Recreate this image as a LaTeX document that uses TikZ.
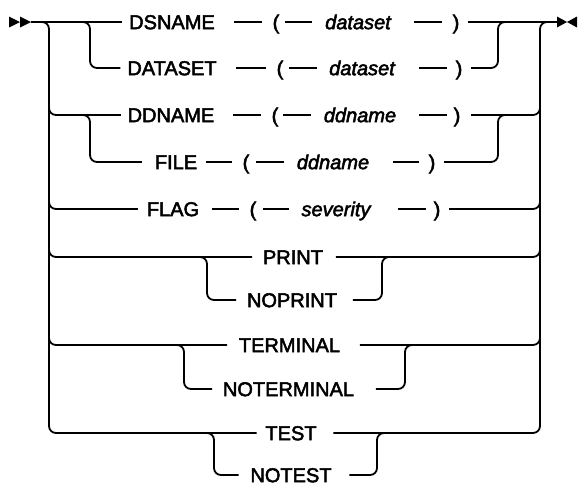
\documentclass[tikz,border=0pt]{standalone}
\usepackage{fontspec}
\setmainfont{Liberation Sans}[UprightFeatures={FakeBold=2.5},ItalicFeatures={FakeBold=2.5}]
\newcommand\dsh[4]{\draw[shorten <=#3pt, shorten >=#4pt] (#1.east) -- (#2.west);}
\begin{document}
\begin{tikzpicture}[x=1pt,y=-1pt, line width=1.8pt,
  kw/.style={inner sep=0pt, text height=14.3pt, text depth=0pt, font=\fontsize{20}{24}\selectfont},
  var/.style={kw, font=\fontsize{20}{24}\selectfont\itshape},
  rc/.style={rounded corners=7pt}]
\useasboundingbox (0,0) rectangle (578,485);

% start / end markers
\coordinate (start) at (31,22);
\coordinate (end) at (557,22);
\fill (9,16.5) -- (20,22) -- (9,27.5) -- cycle;
\fill (20,16.5) -- (31,22) -- (20,27.5) -- cycle;
\fill (557,16.5) -- (567,22) -- (557,27.5) -- cycle;
\fill (577,16.5) -- (567,22) -- (577,27.5) -- cycle;

% texts
\node[kw]  (dsname)  at (172,22) {DSNAME};
\node[kw]  (lp1)     at (276,22) {(};
\node[var] (ds1)     at (358,22) {dataset};
\node[kw]  (rp1)     at (456,22) {)};

\node[kw]  (dataset) at (172,68) {DATASET};
\node[kw]  (lp2)     at (280,68) {(};
\node[var] (ds2)     at (362,68) {dataset};
\node[kw]  (rp2)     at (459,68) {)};

\node[kw]  (ddname)  at (171,115) {DDNAME};
\node[kw]  (lp3)     at (275,115) {(};
\node[var] (dd3)     at (360,115) {ddname};
\node[kw]  (rp3)     at (457,115) {)};

\node[kw]  (file)    at (176,162) {FILE};
\node[kw]  (lp4)     at (246,162) {(};
\node[var] (dd4)     at (333,162) {ddname};
\node[kw]  (rp4)     at (432,162) {)};

\node[kw]  (flag)    at (173,209) {FLAG};
\node[kw]  (lp5)     at (253,209) {(};
\node[var] (sev)     at (336,209) {severity};
\node[kw]  (rp5)     at (437,209) {)};

\node[kw]  (print)      at (293,257) {PRINT};
\node[kw]  (noprint)    at (292,300) {NOPRINT};
\node[kw]  (terminal)   at (289.5,345) {TERMINAL};
\node[kw]  (noterminal) at (288.5,389) {NOTERMINAL};
\node[kw]  (test)       at (291,433) {TEST};
\node[kw]  (notest)     at (291,475) {NOTEST};

% dashes between items
\dsh{dsname}{lp1}{18.2}{9.7}
\dsh{lp1}{ds1}{4.7}{12.2}
\dsh{ds1}{rp1}{22.2}{9.7}

\dsh{dataset}{lp2}{18.9}{9.7}
\dsh{lp2}{ds2}{4.7}{11.2}
\dsh{ds2}{rp2}{23.2}{7.7}

\dsh{ddname}{lp3}{17.7}{9.7}
\dsh{lp3}{dd3}{3.7}{11.9}
\dsh{dd3}{rp3}{21.9}{5.7}

\dsh{file}{lp4}{7.9}{9.7}
\dsh{lp4}{dd4}{5.7}{11.9}
\dsh{dd4}{rp4}{22.9}{8.7}

\dsh{flag}{lp5}{12}{9.7}
\dsh{lp5}{sev}{5.7}{11.5}
\dsh{sev}{rp5}{26.6}{6.7}

% main line
\draw (start) -- ([xshift=-6pt]dsname.west);
\draw ([xshift=8pt]rp1.east) -- (end);

% left spine (with bottom TEST branch)
\draw[rc] (start) -- (49,22) -- (49,433) -- ([xshift=-8pt]test.west);
% right spine
\draw[rc] ([xshift=16pt]test.east) -- (540,433) -- (540,22) -- (end);

% DSNAME / DATASET choice
\draw[rc] (80,22) -- (90,22) -- (90,68) -- ([xshift=-6pt]dataset.west);
\draw[rc] ([xshift=8pt]rp2.east) -- (498,68) -- (498,22) -- (510,22);

% DDNAME / FILE choice
\draw[rc] (49,95) -- (49,115) -- ([xshift=-6pt]ddname.west);
\draw[rc] (80,115) -- (90,115) -- (90,162) -- ([xshift=-12pt]file.west);
\draw[rc] ([xshift=10pt]rp3.east) -- (540,115) -- (540,95);
\draw[rc] ([xshift=8pt]rp4.east) -- (498,162) -- (498,115) -- (510,115);

% FLAG
\draw[rc] (49,190) -- (49,209) -- ([xshift=-8pt]flag.west);
\draw[rc] ([xshift=8pt]rp5.east) -- (540,209) -- (540,190);

% PRINT / NOPRINT
\draw[rc] (49,237) -- (49,257) -- ([xshift=-10pt]print.west);
\draw[rc] (195,257) -- (207,257) -- (207,300) -- ([xshift=-10pt]noprint.west);
\draw[rc] ([xshift=12pt]print.east) -- (540,257) -- (540,237);
\draw[rc] ([xshift=15pt]noprint.east) -- (382,300) -- (382,257) -- (395,257);

% TERMINAL / NOTERMINAL
\draw[rc] (49,325) -- (49,345) -- ([xshift=-11pt]terminal.west);
\draw[rc] (170,345) -- (184,345) -- (184,389) -- ([xshift=-10pt]noterminal.west);
\draw[rc] ([xshift=19pt]terminal.east) -- (540,345) -- (540,325);
\draw[rc] ([xshift=21pt]noterminal.east) -- (405,389) -- (405,345) -- (418,345);

% TEST / NOTEST
\draw[rc] (200,433) -- (214,433) -- (214,475) -- ([xshift=-11pt]notest.west);
\draw[rc] ([xshift=17pt]notest.east) -- (377,475) -- (377,433) -- (390,433);
\end{tikzpicture}
\end{document}
